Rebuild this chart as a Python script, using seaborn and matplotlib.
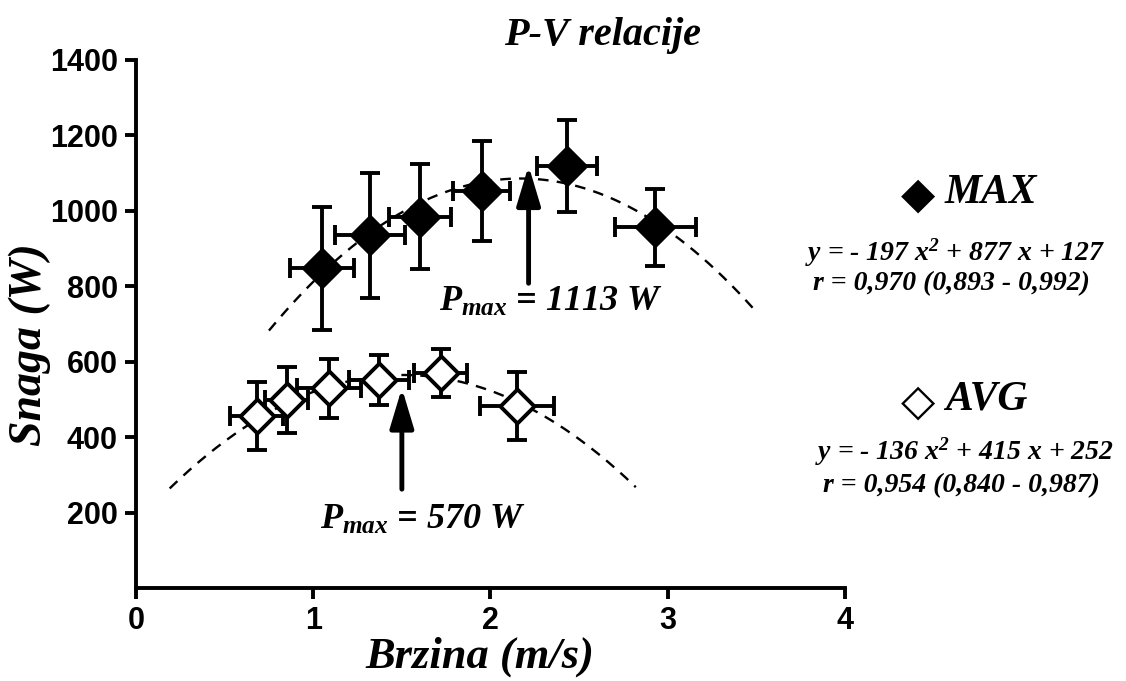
import numpy as np
import matplotlib
matplotlib.use("Agg")
import matplotlib.pyplot as plt
import seaborn as sns

# ---- data ----
max_x = [1.05, 1.32, 1.60, 1.95, 2.43, 2.93]
max_y = [848, 935, 985, 1052, 1118, 956]
max_xerr = [0.18, 0.20, 0.175, 0.16, 0.17, 0.23]
max_yerr = [163, 165, 140, 132, 122, 103]

avg_x = [0.68, 0.85, 1.09, 1.37, 1.72, 2.15]
avg_y = [456, 498, 530, 551, 570, 482]
avg_xerr = [0.15, 0.12, 0.18, 0.17, 0.15, 0.21]
avg_yerr = [90, 88, 78, 66, 63, 90]

# fitted quadratic curves (as drawn) and their x spans
max_fit_coef = [-200, 868, 144]
max_fit_span = [0.75, 3.48]
avg_fit_coef = [-173, 522, 171]
avg_fit_span = [0.19, 2.82]

xticks = [0, 1, 2, 3, 4]
yticks = [200, 400, 600, 800, 1000, 1200, 1400]

max_arrow = [2.215, 808, 1120]   # x, tail y, tip y
avg_arrow = [1.50, 262, 530]
max_label = "$P_{max}$ = 1113 W"
avg_label = "$P_{max}$ = 570 W"

title = "P-V relacije"
xlabel = "Brzina (m/s)"
ylabel = "Snaga (W)"
eq_max = ["y = - 197 x$^{2}$ + 877 x + 127", "r = 0,970 (0,893 - 0,992)"]
eq_avg = ["y = - 136 x$^{2}$ + 415 x + 252", "r = 0,954 (0,840 - 0,987)"]

# ---- style ----
sns.set_style("ticks")
serif = "Liberation Serif"
plt.rcParams["font.family"] = [serif, "DejaVu Serif"]
plt.rcParams["mathtext.fontset"] = "custom"
plt.rcParams["mathtext.rm"] = "Liberation Serif:italic:bold"
plt.rcParams["mathtext.it"] = "Liberation Serif:italic:bold"
plt.rcParams["mathtext.bf"] = "Liberation Serif:italic:bold"
for k in ["text.color", "axes.labelcolor", "xtick.color", "ytick.color", "axes.edgecolor"]:
    plt.rcParams[k] = "black"

fig = plt.figure(figsize=(11.26, 6.81), dpi=100)
ax = fig.add_axes([0.1208, 0.1366, 0.6296, 0.7753])

# fit curves
for coef, span in [(max_fit_coef, max_fit_span), (avg_fit_coef, avg_fit_span)]:
    xs = np.linspace(span[0], span[1], 200)
    ys = np.polyval(coef, xs)
    sns.lineplot(x=xs, y=ys, ax=ax, color="black", lw=1.7, linestyle=(0, (4.5, 3.5)),
                 zorder=1)

# error bars
ekw = dict(fmt="none", ecolor="black", elinewidth=2.8, capsize=7.5, capthick=2.8, zorder=2)
ax.errorbar(max_x, max_y, xerr=max_xerr, yerr=max_yerr, **ekw)
ax.errorbar(avg_x, avg_y, xerr=avg_xerr, yerr=avg_yerr, **ekw)

# markers
sns.scatterplot(x=max_x, y=max_y, ax=ax, marker="D", s=420, color="black",
                edgecolor="black", linewidth=1, zorder=3)
sns.scatterplot(x=avg_x, y=avg_y, ax=ax, marker="D", s=300, facecolor="white",
                edgecolor="black", linewidth=2.8, zorder=3)

# arrows
for (xa, ytail, ytip) in [max_arrow, avg_arrow]:
    ax.annotate("", xy=(xa, ytip), xytext=(xa, ytail),
                arrowprops=dict(arrowstyle="-|>,head_length=1.1,head_width=0.33",
                                lw=3.5, color="black", mutation_scale=22,
                                shrinkA=0, shrinkB=0), zorder=4)

tkw = dict(fontsize=26, fontweight="bold", style="italic", ha="center", va="center")
ax.text(2.34, 757, max_label, **tkw)
ax.text(1.62, 180, avg_label, **tkw)

# axes
ax.set_xlim(0, 4)
ax.set_ylim(0, 1400)
ax.set_xticks(xticks)
ax.set_yticks(yticks)
tick_font = "Liberation Sans"
ax.set_xticklabels([str(t) for t in xticks], fontfamily=tick_font, fontweight="bold", fontsize=22)
ax.set_yticklabels([str(t) for t in yticks], fontfamily=tick_font, fontweight="bold", fontsize=22)
ax.tick_params(axis="both", length=8, width=2.8, direction="out", pad=5, color="black")
for s in ["left", "bottom"]:
    ax.spines[s].set_linewidth(2.8)
    ax.spines[s].set_color("black")
sns.despine(ax=ax)

ax.set_xlabel("")
ax.set_ylabel("")
fig.text(480 / 1126, 1 - 657 / 681, xlabel, fontsize=32, fontweight="bold",
         style="italic", ha="center", va="center")
fig.text(30 / 1126, 1 - 345 / 681, ylabel, fontsize=33, fontweight="bold",
         style="italic", rotation=90, ha="center", va="center")
fig.text(603 / 1126, 1 - 35 / 681, title, fontsize=29, fontweight="bold",
         style="italic", ha="center", va="center")

# right-hand key
bkw = dict(fontweight="bold", style="italic", va="center")
fig.text(918 / 1126, 1 - 195 / 681, "\u25C6", fontsize=32, ha="center", va="center",
         family=["DejaVu Sans"])
fig.text(945 / 1126, 1 - 193 / 681, "MAX", fontsize=30, ha="left", **bkw)
fig.text(955 / 1126, 1 - 253 / 681, eq_max[0], fontsize=20, ha="center", **bkw)
fig.text(951 / 1126, 1 - 284 / 681, eq_max[1], fontsize=20, ha="center", **bkw)

fig.text(918 / 1126, 1 - 402 / 681, "\u25C7", fontsize=32, ha="center", va="center",
         family=["DejaVu Sans"])
fig.text(945 / 1126, 1 - 400 / 681, "AVG", fontsize=30, ha="left", **bkw)
fig.text(964 / 1126, 1 - 452 / 681, eq_avg[0], fontsize=20, ha="center", **bkw)
fig.text(961 / 1126, 1 - 486 / 681, eq_avg[1], fontsize=20, ha="center", **bkw)

fig.savefig("out.png", dpi=100, facecolor="white")
